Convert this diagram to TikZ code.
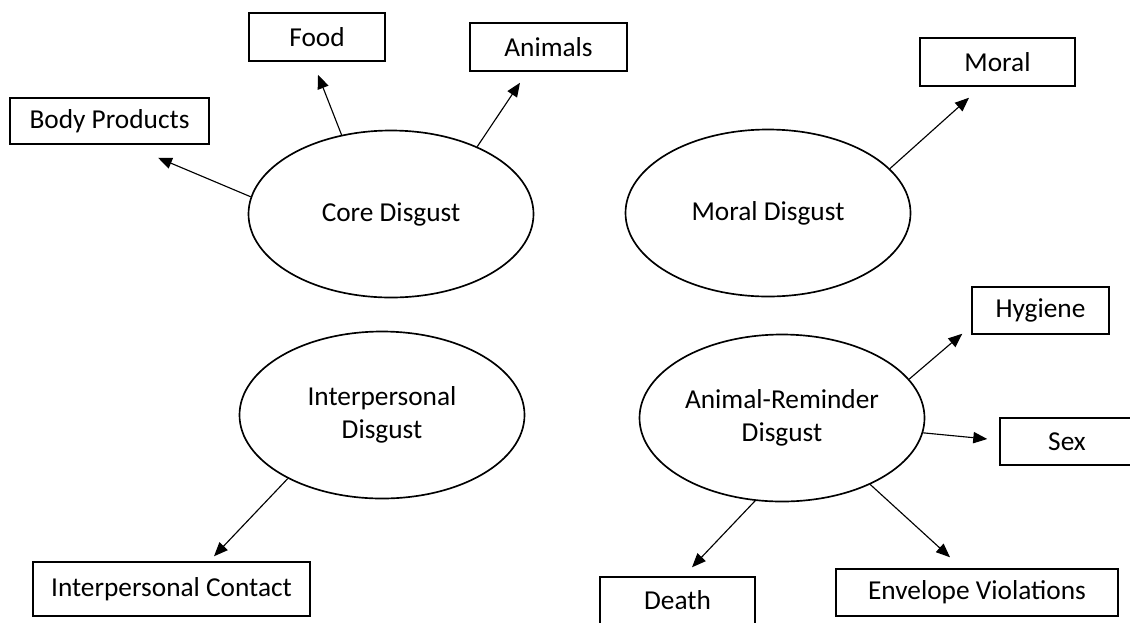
\documentclass[tikz,border=0pt]{standalone}
\usepackage{fontspec}
\setmainfont{Carlito}
\usetikzlibrary{shapes.geometric, arrows.meta, calc}

\begin{document}
\begin{tikzpicture}[x=0.75pt,y=0.75pt,yscale=-1,
    ell/.style={draw, ellipse, line width=1.25pt, inner sep=0pt, minimum width=213.75pt, minimum height=125.25pt, align=center, font=\fontsize{20.5}{24.5}\selectfont},
    box/.style={draw, rectangle, line width=1.1pt, inner sep=0pt, minimum height=35.25pt, font=\fontsize{20.5}{24}\selectfont},
    arr/.style={-{Triangle[length=10.5pt,width=8.5pt]}, line width=0.85pt}]
        %set diagram size 1130 x 622
        \useasboundingbox (0,0) rectangle (1130,622);
        \clip (0,0) rectangle (1130,622);

        %Shape: Ellipse [core]
        \node [ell] (core) at (391,214) {Core Disgust};
        %Shape: Ellipse [moral]
        \node [ell] (moraldis) at (768,213) {Moral Disgust};
        %Shape: Ellipse [interpersonal]
        \node [ell] (interdis) at (382,415) {Interpersonal\\Disgust};
        %Shape: Ellipse [animal-reminder]
        \node [ell] (animaldis) at (782,418) {Animal-Reminder\\Disgust};

        % Text Node
        \node [box, minimum width=102pt, minimum height=36pt] (food) at (317,37) {Food};
        % Text Node
        \node [box, minimum width=117.75pt, minimum height=36pt] (animals) at (548.5,47) {Animals};
        % Text Node
        \node [box, minimum width=149.25pt, minimum height=34.5pt] (body) at (109.5,121) {Body Products};
        % Text Node
        \node [box, minimum width=116.25pt, minimum height=36pt] (moral) at (997.5,62) {Moral};
        % Text Node
        \node [box, minimum width=102.75pt] (hygiene) at (1040.5,310.5) {Hygiene};
        % Text Node
        \node [box, minimum width=100.5pt] (sex) at (1067,441.5) {Sex};
        % Text Node
        \node [box, minimum width=116.25pt] (death) at (677.5,600.5) {Death};
        % Text Node
        \node [box, minimum width=211.5pt] (envelope) at (977,592.5) {Envelope Violations};
        % Text Node
        \node [box, minimum width=207.75pt, minimum height=40.5pt] (contact) at (171.5,589) {Interpersonal Contact};

        %Straight Lines [core]
        \draw [arr] (core.173) -- ($(body.south)+(48.5,13)$);
        \draw [arr] (core.122) -- ($(food.south)+(1,13)$);
        \draw [arr] (core.38) -- ($(animals.south)+(-28.5,11)$);
        %Straight Lines [moral]
        \draw [arr] (moraldis.20) -- ($(moral.south)+(-28.5,11)$);
        %Straight Lines [interpersonal]
        \draw [arr] (interdis.214) -- ($(contact.north)+(42.5,-5)$);
        %Straight Lines [animal-reminder]
        \draw [arr] (animaldis.17) -- ($(hygiene.south west)+(-9,-1)$);
        \draw [arr] (animaldis.354) -- ($(sex.west)+(-12,-2.5)$);
        \draw [arr] (animaldis.252) -- ($(death.north)+(14.5,-9)$);
        \draw [arr] (animaldis.323) -- ($(envelope.north)+(-27,-11)$);

\end{tikzpicture}
\end{document}
